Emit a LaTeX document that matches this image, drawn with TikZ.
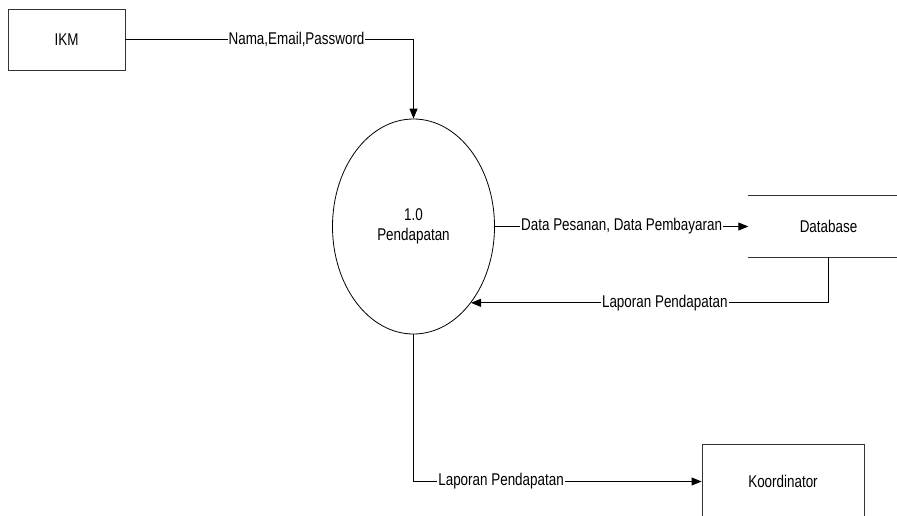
\documentclass[tikz,border=0pt]{standalone}
\usepackage{fontspec}
\setmainfont{Liberation Sans}[FakeStretch=0.79]
\usetikzlibrary{arrows.meta,shapes.geometric}
\begin{document}
\begin{tikzpicture}[x=1pt,y=-1pt,
  every node/.style={font=\fontsize{17}{20}\selectfont, inner sep=0pt},
  entity/.style={draw=black!80, line width=0.9pt, rectangle},
  proc/.style={draw=black, line width=0.8pt, ellipse, align=center},
  flow/.style={draw=black, line width=0.9pt, -{Triangle[length=10pt,width=8pt]}},
  lbl/.style={fill=white, inner sep=1pt}]
\clip (0,0) rectangle (897,516);
\useasboundingbox (0,0) rectangle (897,516);
\fill[white] (0,0) rectangle (897,516);
\node[entity, minimum width=117, minimum height=61] (ikm) at (66.5,39.5) {IKM};
\node[proc, minimum width=162, minimum height=215] (p) at (413.5,226.5) {1.0\\Pendapatan};
\node[minimum width=160, minimum height=61] (db) at (828.5,226.5) {Database};
\draw[black!80, line width=0.9pt] (db.north west) -- (db.north east);
\draw[black!80, line width=0.9pt] (db.south west) -- (db.south east);
\node[entity, minimum width=162, minimum height=74] (ko) at (783,481.5) {Koordinator};
\draw[flow] (ikm.east) -| node[lbl, pos=0.297] {Nama,Email,Password} (p.north);
\draw[flow] (p.east) -- node[lbl, pos=0.5] {Data Pesanan, Data Pembayaran} (db.west);
\draw[flow] (db.south) |- node[lbl, pos=0.729] {Laporan Pendapatan} (p.-53.5);
\draw[flow] (p.south) |- node[lbl, pos=0.652] {Laporan Pendapatan} (ko.west);
\end{tikzpicture}
\end{document}
